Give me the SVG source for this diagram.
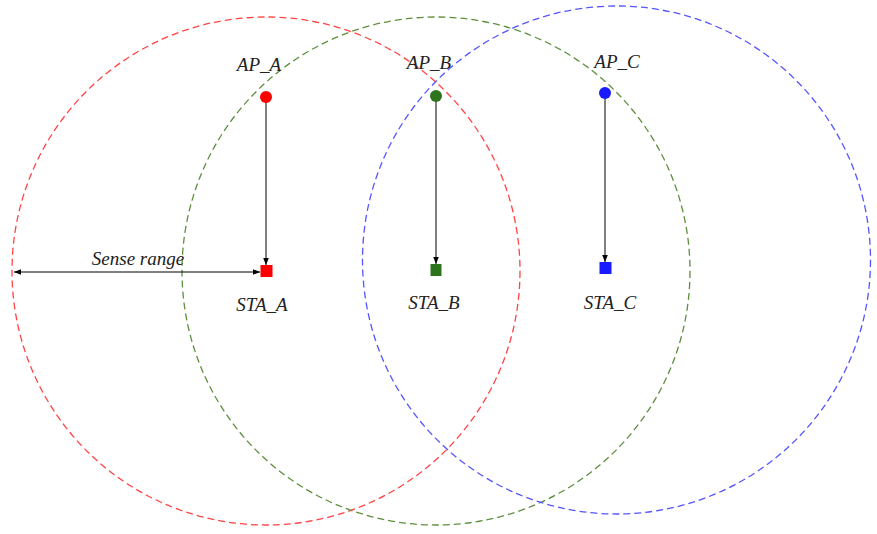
<svg xmlns="http://www.w3.org/2000/svg" width="877" height="534" viewBox="0 0 877 534">
<defs>
<marker id="ah" viewBox="0 0 10 10" refX="10" refY="5" markerWidth="7" markerHeight="7" orient="auto-start-reverse" markerUnits="userSpaceOnUse">
<path d="M0,1 L10,5 L0,9 z" fill="#000"/>
</marker>
<style>
.range{fill:none;stroke-width:1.3;stroke-dasharray:7,4}
.lbl{font-family:"Liberation Serif","Times New Roman",serif;font-style:italic;font-size:19px;fill:#222;text-anchor:middle}
.conn{stroke:#000;stroke-width:1;fill:none}
</style>
</defs>
<rect width="877" height="534" fill="#fff"/>
<g id="ranges">
<circle id="range_A" class="range" cx="266" cy="271" r="254" stroke="#f44"/>
<circle id="range_B" class="range" cx="436" cy="271" r="254" stroke="#5e8f3e"/>
<circle id="range_C" class="range" cx="616.5" cy="260" r="254" stroke="#55f"/>
</g>
<g id="connectors">
<line class="conn" x1="266" y1="97" x2="266" y2="265" marker-end="url(#ah)"/>
<line class="conn" x1="436" y1="96" x2="436" y2="264" marker-end="url(#ah)"/>
<line class="conn" x1="605" y1="93" x2="605" y2="262" marker-end="url(#ah)"/>
<line class="conn" x1="14" y1="272" x2="260" y2="272" marker-start="url(#ah)" marker-end="url(#ah)"/>
<text class="lbl" x="138" y="265">Sense range</text>
</g>
<g id="AP_A">
<circle cx="266" cy="97" r="6" fill="#f00"/>
<text class="lbl" x="259" y="71">AP_A</text>
</g>
<g id="AP_B">
<circle cx="436" cy="96" r="6" fill="#2e741c"/>
<text class="lbl" x="429" y="69">AP_B</text>
</g>
<g id="AP_C">
<circle cx="605" cy="93" r="6" fill="#1a1aff"/>
<text class="lbl" x="617" y="68">AP_C</text>
</g>
<g id="STA_A">
<rect x="260.5" y="265" width="12" height="12" fill="#f00"/>
<text class="lbl" x="262" y="311">STA_A</text>
</g>
<g id="STA_B">
<rect x="430.5" y="264" width="11" height="12" fill="#2e741c"/>
<text class="lbl" x="434" y="309">STA_B</text>
</g>
<g id="STA_C">
<rect x="599.5" y="262" width="12" height="12" fill="#1a1aff"/>
<text class="lbl" x="610" y="309">STA_C</text>
</g>
</svg>
